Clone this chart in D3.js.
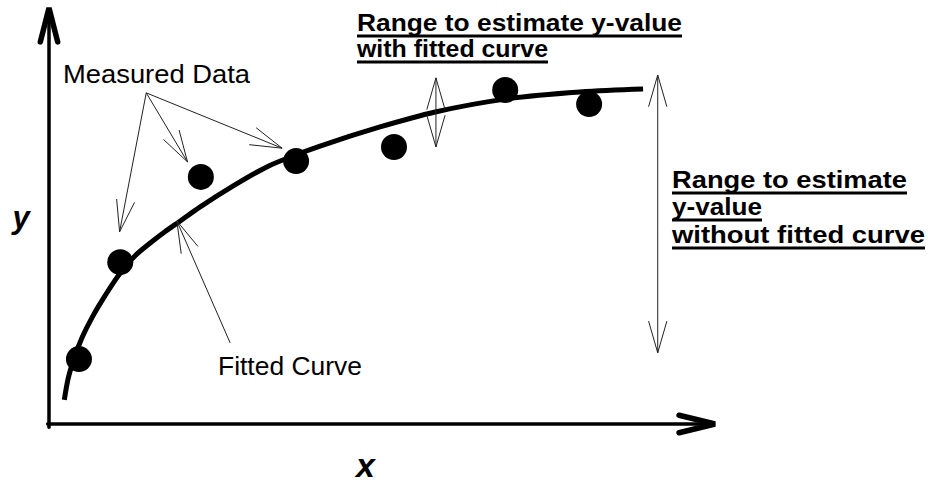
<!DOCTYPE html>
<html>
<head>
<meta charset="utf-8">
<script src="https://cdn.jsdelivr.net/npm/d3@7"></script>
<style>
  html, body { margin: 0; padding: 0; background: #fff; }
  svg { display: block; }
</style>
</head>
<body>
<svg id="chart" width="928" height="484"></svg>
<script>
// ---- data (chart units) ----
const measuredX = [4.5, 10.7, 22.8, 37.1, 51.8, 68.5, 81.1];
const measuredY = [15.6, 38.9, 59.4, 63.2, 66.6, 80.3, 76.9];

const fittedX = [2.3, 2.9, 3.8, 5.0, 6.5, 8.4, 10.7, 12.9, 15.2, 17.4, 19.7, 22.7, 27.6, 32.7, 37.1, 40.7, 49.7, 58.0, 68.5, 79.7, 89.2];
const fittedY = [5.8, 11.1, 15.9, 20.9, 25.7, 30.8, 36.3, 40.4, 43.5, 46.2, 48.8, 52.2, 57.2, 61.8, 64.7, 66.8, 71.4, 75.0, 78.1, 79.8, 80.5];

const axisLabels = ["x", "y"];
const noteMeasured = "Measured Data";
const noteFitted = "Fitted Curve";
const noteWith = ["Range to estimate y-value", "with fitted curve"];
const noteWithout = ["Range to estimate", "y-value", "without fitted curve"];

// ---- layout ----
const svg = d3.select("#chart");
const x = d3.scaleLinear().domain([0, 100]).range([49, 715]);
const y = d3.scaleLinear().domain([0, 100]).range([424, 8]);
const FONT = "'Liberation Sans', Arial, Helvetica, sans-serif";

// axes with thick open arrowheads
const axisG = svg.append("g").attr("stroke", "#000").attr("fill", "none")
  .attr("stroke-linecap", "round").attr("stroke-linejoin", "miter");
axisG.append("path")
  .attr("d", d3.line()([[x(0), y(-0.8)], [x(0), y(99)]]))
  .attr("stroke-width", 3.5);
axisG.append("path")
  .attr("d", d3.line()([[x(-0.2), y(0)], [x(99.5), y(0)]]))
  .attr("stroke-width", 3.5);

function vHead(g, tip, from, len, ang, sw) {
  const dx = tip[0] - from[0], dy = tip[1] - from[1];
  const a = Math.atan2(dy, dx);
  const p1 = [tip[0] - len * Math.cos(a - ang), tip[1] - len * Math.sin(a - ang)];
  const p2 = [tip[0] - len * Math.cos(a + ang), tip[1] - len * Math.sin(a + ang)];
  g.append("path").attr("d", d3.line()([p1, tip, p2]))
    .attr("stroke-width", sw).attr("fill", "none");
}
vHead(axisG, [x(0), y(100)], [x(0), y(0)], 35, 0.25, 5.5);
vHead(axisG, [x(100), y(0)], [x(0), y(0)], 37, 0.24, 5.5);

// fitted curve
const curvePts = fittedX.map((d, i) => [x(d), y(fittedY[i])]);
svg.append("path")
  .attr("d", d3.line().curve(d3.curveCatmullRom.alpha(0.5))(curvePts))
  .attr("fill", "none").attr("stroke", "#000").attr("stroke-width", 5)
  .attr("stroke-linecap", "butt");

// measured points
svg.append("g").selectAll("circle")
  .data(measuredX.map((d, i) => [d, measuredY[i]]))
  .join("circle")
  .attr("cx", d => x(d[0])).attr("cy", d => y(d[1]))
  .attr("r", 13).attr("fill", "#000");

// thin annotation arrows
const thin = svg.append("g").attr("stroke", "#222").attr("fill", "none")
  .attr("stroke-width", 1);
function thinArrow(from, tip, heads) {
  const f = [x(from[0]), y(from[1])], t = [x(tip[0]), y(tip[1])];
  thin.append("path").attr("d", d3.line()([f, t]));
  vHead(thin, t, f, 33, 0.28, 1);
  if (heads === 2) vHead(thin, f, t, 33, 0.28, 1);
}
const mdOrigin = [14.6, 79.6];
thinArrow(mdOrigin, [measuredX[1] - 0.1, 46.2]);
thinArrow(mdOrigin, [20.8, 63.0]);
thinArrow(mdOrigin, [35.0, 66.3]);
thinArrow([27.2, 19.5], [19.2, 48.8]);
thinArrow([58.1, 66.6], [58.1, 83.2], 2);
thinArrow([91.4, 17.1], [91.4, 83.9], 2);

// text
function label(txt, px, py, size, weight, len, underline) {
  const t = svg.append("text")
    .attr("x", px).attr("y", py)
    .attr("font-family", FONT).attr("font-size", size)
    .attr("font-weight", weight).attr("fill", "#000")
    .attr("textLength", len).attr("lengthAdjust", "spacingAndGlyphs")
    .text(txt);
  if (underline) {
    svg.append("line").attr("x1", px).attr("x2", px + len)
      .attr("y1", py + underline).attr("y2", py + underline)
      .attr("stroke", "#000").attr("stroke-width", 2.8);
  }
  return t;
}
label(noteMeasured, 63, 83, 25, "normal", 187);
label(noteFitted, 218, 375, 25, "normal", 144);

label(noteWith[0], 357, 31, 24, "bold", 325, 5);
label(noteWith[1], 357, 57, 24, "bold", 191, 5);

label(noteWithout[0], 672, 188, 24, "bold", 235, 5);
label(noteWithout[1], 672, 215, 24, "bold", 90, 5);
label(noteWithout[2], 672, 243, 24, "bold", 253, 5);

// axis titles
svg.append("text").attr("x", x(47.5)).attr("y", 477)
  .attr("font-family", FONT).attr("font-size", 34).attr("font-weight", "bold")
  .attr("font-style", "italic").attr("text-anchor", "middle").text(axisLabels[0]);
svg.append("text").attr("x", 21).attr("y", 228)
  .attr("font-family", FONT).attr("font-size", 31).attr("font-weight", "bold")
  .attr("font-style", "italic").attr("text-anchor", "middle").text(axisLabels[1]);
</script>
</body>
</html>
